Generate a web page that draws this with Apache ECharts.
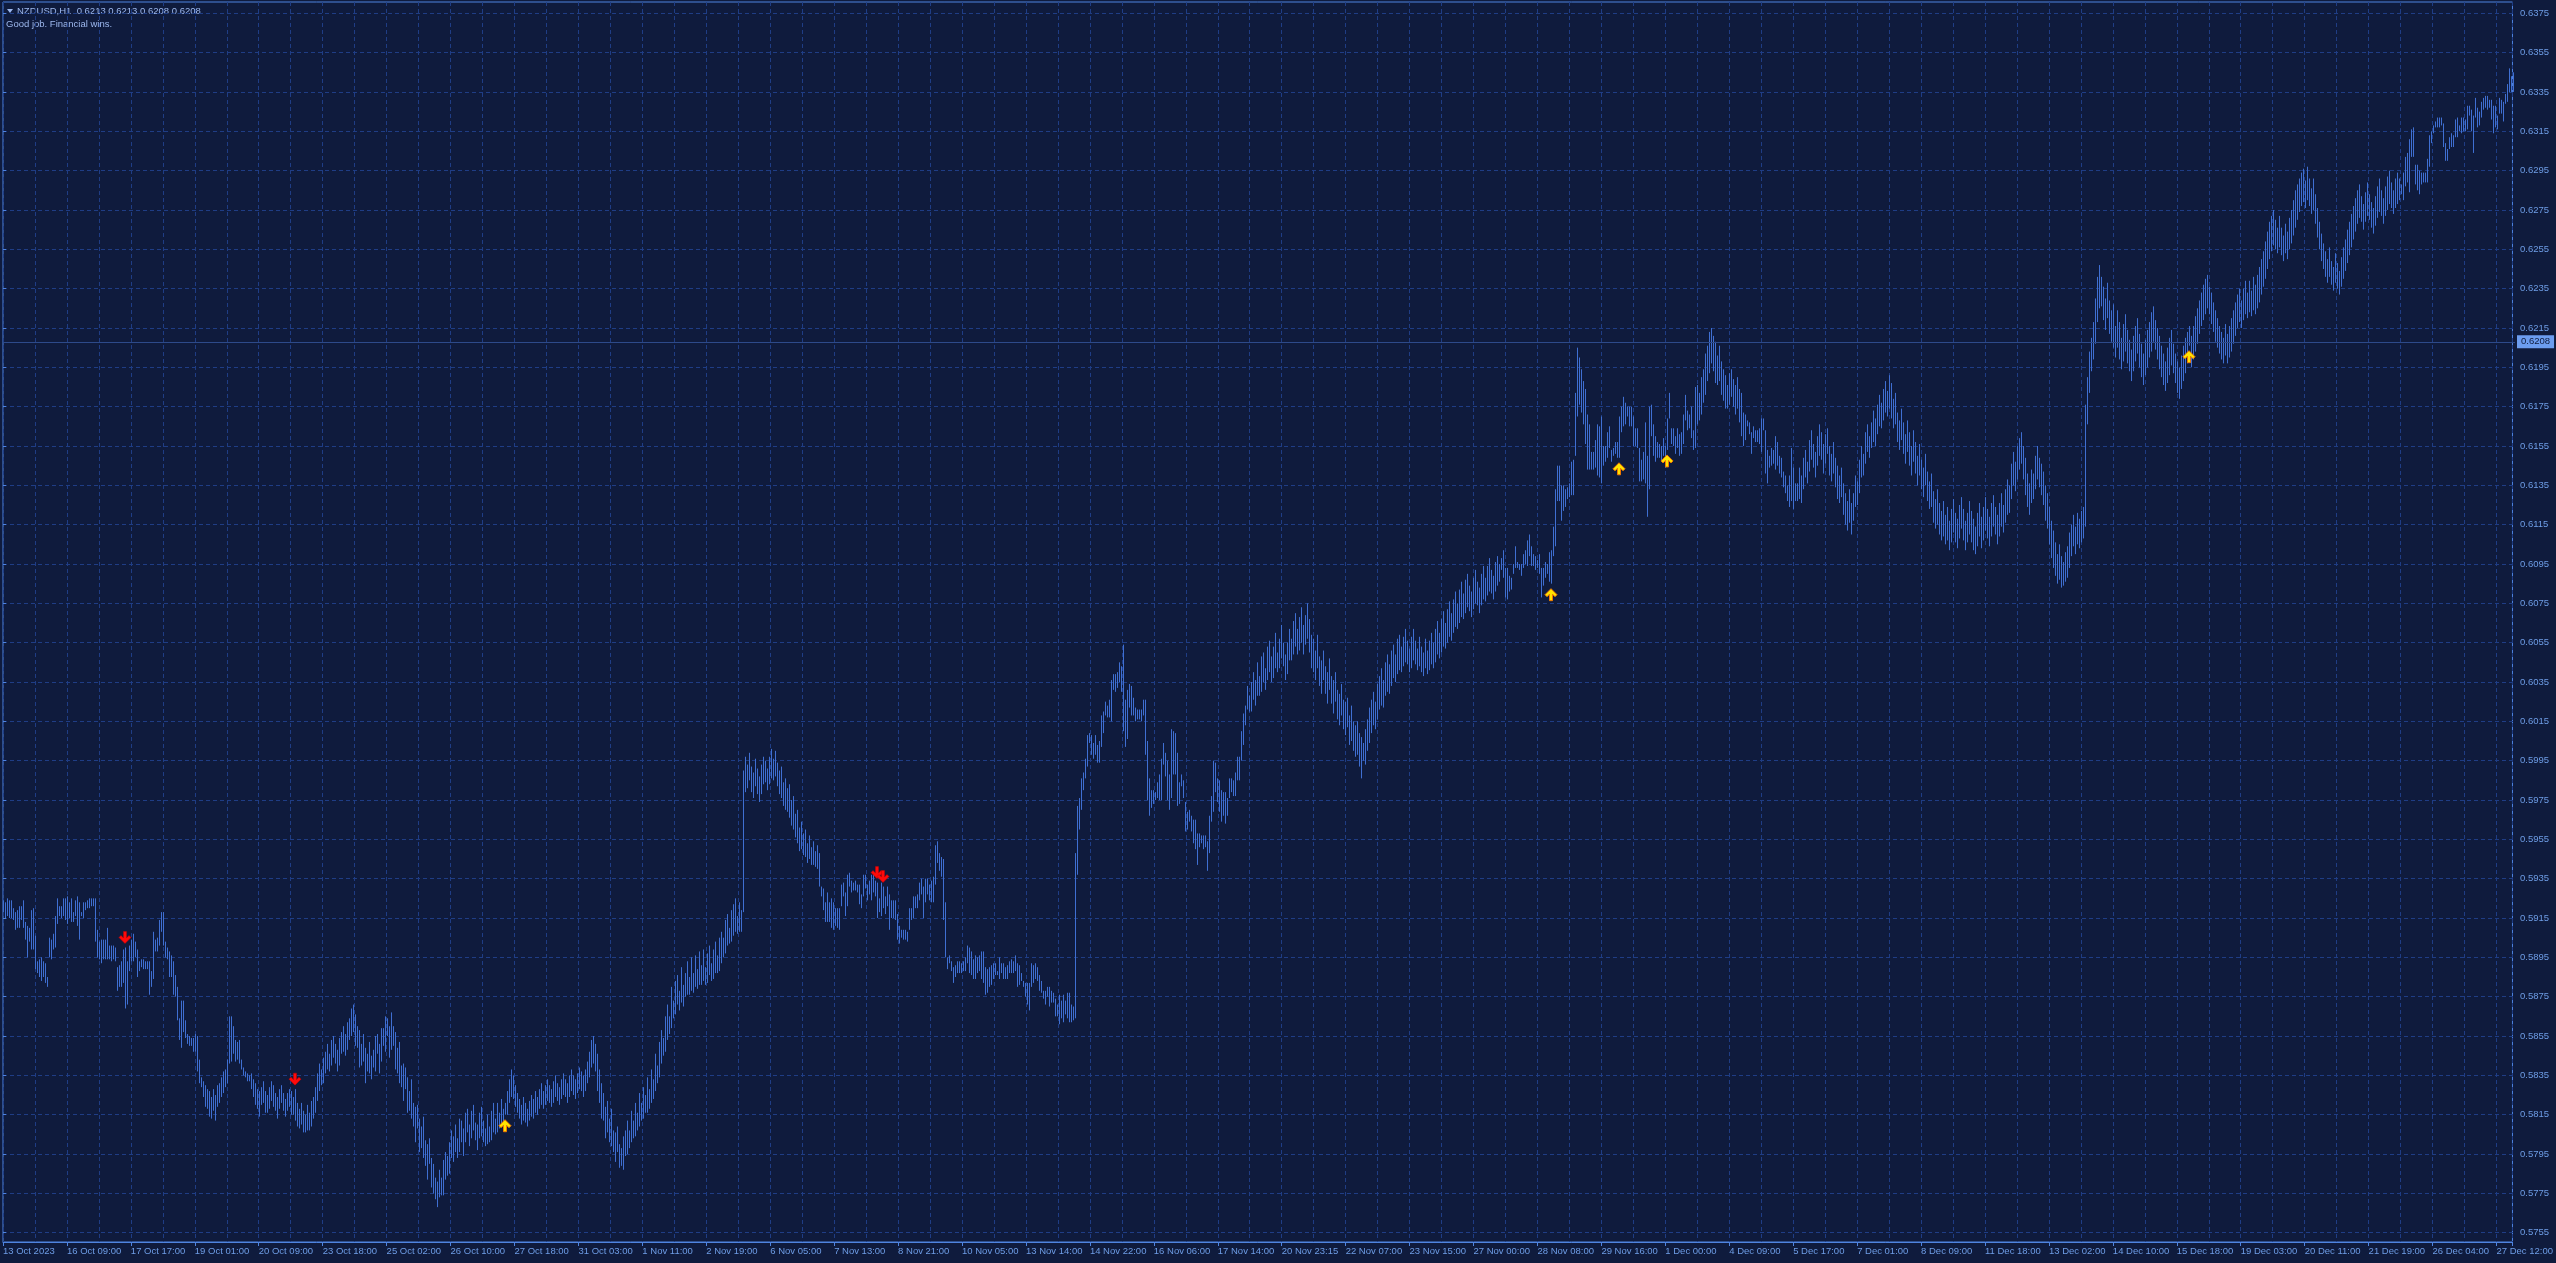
<!DOCTYPE html>
<html><head><meta charset="utf-8">
<script src="https://cdn.jsdelivr.net/npm/echarts@6/dist/echarts.min.js"></script>
<style>html,body{margin:0;padding:0;background:#0f1b3d;overflow:hidden}#c{width:2556px;height:1263px}</style>
</head><body><div id="c"></div>
<script>
// Prices are stored in pips above 0.5700 (e.g. 224 -> 0.5924)
const BASE_PIPS = 5700;
const AXIS_MIN_PIPS = 5755;   // lowest price gridline 0.5755
const AXIS_MAX_PIPS = 6375;   // highest price gridline 0.6375
const PRICE_STEP = 20;        // gridline every 0.0020
const BARS_PER_LABEL = 32;

const headerText = 'NZDUSD,H1  0.6213 0.6213 0.6208 0.6208';
const commentText = 'Good job. Financial wins.';
const lastPricePips = 6208;

const xLabels = ['13 Oct 2023','16 Oct 09:00','17 Oct 17:00','19 Oct 01:00','20 Oct 09:00','23 Oct 18:00','25 Oct 02:00','26 Oct 10:00','27 Oct 18:00','31 Oct 03:00',
'1 Nov 11:00','2 Nov 19:00','6 Nov 05:00','7 Nov 13:00','8 Nov 21:00','10 Nov 05:00','13 Nov 14:00','14 Nov 22:00','16 Nov 06:00','17 Nov 14:00',
'20 Nov 23:15','22 Nov 07:00','23 Nov 15:00','27 Nov 00:00','28 Nov 08:00','29 Nov 16:00','1 Dec 00:00','4 Dec 09:00','5 Dec 17:00','7 Dec 01:00',
'8 Dec 09:00','11 Dec 18:00','13 Dec 02:00','14 Dec 10:00','15 Dec 18:00','19 Dec 03:00','20 Dec 11:00','21 Dec 19:00','26 Dec 04:00','27 Dec 12:00'];

// hourly [high, low] in pips above 0.5700
const hourlyHighLow = [
// 0
[224,218],[223,215],[225,216],[224,215],[224,215],[220,214],[218,209],[219,210],[221,210],[221,214],
[224,210],[213,204],[211,195],[210,203],[219,199],[220,199],[206,189],[193,187],[194,185],[195,183],
[193,185],[192,182],[185,180],[205,195],[204,194],[207,199],[216,200],[225,212],[221,216],[221,215],
[225,216],[225,214],[226,212],[223,215],[225,213],[218,213],[224,216],[226,211],[223,204],[218,216],
[223,215],[223,219],[224,220],[225,220],[225,221],[225,221],[225,203],[209,195],[203,194],[204,192],
[204,194],[204,194],[210,194],[201,194],[201,193],[201,194],[200,193],[190,178],[191,180],[193,180],
[199,182],[200,169],[193,171],[201,188],[204,193],[207,193],[203,195],[199,185],[193,188],[194,190],
[194,189],[193,189],[193,189],[193,176],[188,180],[208,184],[204,198],[205,198],[214,201],[218,208],
[218,201],[203,195],[200,194],[198,185],[196,185],[193,176],[186,175],[180,163],[164,153],[173,149],
[173,157],[163,154],[156,151],[155,150],[154,150],[154,147],[156,147],[155,137],[143,131],[134,129],
// 100
[132,124],[130,119],[128,118],[127,114],[124,113],[128,117],[125,112],[130,119],[131,121],[134,124],
[137,126],[138,129],[143,131],[165,141],[165,142],[160,146],[153,142],[152,143],[153,141],[143,138],
[139,135],[137,134],[136,132],[135,132],[136,128],[133,124],[131,120],[128,118],[127,114],[129,120],
[132,121],[127,116],[125,116],[129,118],[132,122],[130,119],[126,117],[124,113],[128,118],[130,121],
[126,117],[123,114],[126,117],[128,119],[127,115],[124,115],[128,112],[121,109],[118,108],[121,110],
[117,106],[115,106],[120,107],[116,107],[122,109],[124,113],[129,116],[136,122],[141,127],[138,130],
[144,131],[147,136],[151,138],[146,137],[153,140],[155,144],[151,141],[148,137],[154,140],[157,146],
[160,147],[156,145],[162,148],[164,153],[169,155],[171,157],[166,150],[160,149],[158,139],[151,140],
[156,142],[149,131],[146,137],[152,136],[145,133],[148,139],[155,137],[156,146],[151,136],[159,142],
[159,150],[165,147],[164,155],[160,144],[167,148],[160,150],[157,138],[149,136],[152,131],[140,129],
// 200
[141,122],[139,128],[134,116],[127,117],[133,113],[121,109],[119,101],[120,108],[113,96],[109,98],
[114,93],[102,89],[100,82],[103,90],[93,78],[90,75],[83,72],[81,68],[87,73],[83,74],
[92,74],[96,82],[94,84],[101,85],[107,93],[104,91],[110,96],[103,93],[113,96],[112,101],
[108,94],[116,101],[118,106],[110,99],[117,103],[120,107],[111,102],[110,97],[116,103],[119,104],
[112,101],[108,99],[115,100],[109,101],[117,102],[121,106],[113,105],[121,106],[116,108],[123,109],
[118,108],[121,115],[127,115],[133,121],[138,124],[135,123],[130,119],[126,116],[123,113],[120,110],
[124,112],[121,111],[118,109],[122,112],[125,114],[123,113],[127,116],[124,115],[128,118],[131,120],
[127,118],[130,120],[133,122],[130,121],[128,119],[132,121],[135,124],[131,122],[129,120],[133,123],
[136,125],[133,124],[131,121],[135,124],[138,127],[135,125],[133,123],[136,126],[139,128],[137,127],
[135,124],[138,127],[142,131],[147,134],[153,139],[155,141],[151,137],[146,127],[138,121],[131,113],
// 300
[126,112],[119,103],[122,106],[113,101],[118,99],[107,96],[106,91],[109,96],[100,88],[98,89],
[104,87],[107,94],[112,95],[107,98],[117,101],[112,103],[121,104],[116,107],[126,109],[121,112],
[129,113],[125,116],[134,116],[128,118],[138,121],[133,123],[146,127],[140,131],[152,134],[158,141],
[154,145],[165,147],[171,153],[165,156],[180,159],[173,164],[183,166],[186,171],[178,168],[190,172],
[181,170],[187,175],[193,176],[185,176],[195,178],[187,177],[196,180],[189,179],[198,181],[191,181],
[199,183],[190,181],[197,182],[201,186],[192,183],[199,184],[203,187],[196,187],[205,188],[208,192],
[205,195],[214,197],[217,201],[210,202],[219,203],[222,206],[225,208],[216,207],[223,208],[219,208],
[290,218],[297,279],[293,281],[299,285],[292,279],[289,276],[296,282],[291,278],[287,274],[293,278],
[297,283],[295,284],[291,280],[297,283],[301,286],[296,285],[300,287],[294,282],[290,278],[292,276],
[284,272],[286,270],[281,269],[283,266],[275,262],[277,260],[268,256],[270,253],[261,249],[264,250],
// 400
[258,247],[260,246],[253,243],[257,245],[251,242],[254,242],[249,241],[252,240],[248,231],[231,226],
[230,219],[223,213],[228,213],[223,213],[225,210],[223,209],[220,211],[220,210],[220,209],[232,221],
[233,226],[228,216],[237,221],[238,231],[234,228],[233,229],[234,229],[232,228],[232,222],[227,220],
[237,226],[237,230],[232,224],[234,227],[237,224],[237,228],[234,226],[233,215],[225,218],[233,216],
[231,220],[226,217],[231,221],[227,209],[224,215],[224,215],[224,214],[217,204],[211,202],[209,205],
[209,204],[209,204],[208,203],[220,209],[220,214],[226,215],[226,220],[227,220],[233,224],[235,227],
[231,215],[235,223],[235,227],[232,224],[234,223],[236,223],[252,232],[254,243],[248,239],[246,236],
[245,214],[223,195],[195,189],[196,192],[193,188],[190,182],[191,185],[193,187],[193,187],[192,187],
[193,188],[195,188],[201,192],[200,187],[198,186],[194,184],[196,184],[195,187],[196,188],[198,184],
[198,182],[190,176],[189,177],[190,180],[191,181],[192,184],[192,186],[188,186],[195,184],[192,187],
// 500
[192,184],[190,184],[191,184],[193,187],[194,187],[193,187],[196,188],[192,180],[191,181],[187,183],
[183,180],[182,175],[182,171],[182,168],[192,180],[191,182],[192,184],[190,183],[186,178],[183,177],
[178,174],[178,171],[180,175],[180,170],[178,172],[177,172],[174,165],[171,165],[176,161],[173,164],
[176,162],[173,166],[177,164],[177,162],[171,162],[170,163],[248,164],[272,237],[276,260],[286,270],
[289,280],[296,286],[308,292],[309,304],[308,298],[304,296],[308,298],[303,294],[305,294],[318,302],
[320,309],[325,318],[323,317],[326,317],[336,315],[339,331],[339,330],[340,332],[345,335],[343,330],
[354,310],[326,302],[331,306],[334,322],[333,318],[327,318],[322,315],[321,316],[321,316],[321,315],
[326,318],[326,298],[305,275],[286,267],[280,271],[280,273],[279,275],[284,276],[288,275],[296,275],
[304,293],[299,287],[295,275],[288,270],[311,276],[310,288],[309,288],[299,272],[284,273],[288,282],
[285,276],[274,259],[269,260],[270,264],[267,259],[265,253],[265,250],[258,242],[258,251],[257,253],
// 600
[257,250],[257,251],[254,239],[267,248],[277,264],[295,269],[294,279],[286,274],[285,269],[280,264],
[279,267],[279,263],[276,267],[286,276],[286,279],[285,277],[289,277],[297,285],[297,285],[310,295],
[319,303],[323,313],[333,321],[328,320],[335,320],[340,326],[336,323],[345,328],[338,328],[348,330],
[350,335],[342,331],[353,336],[356,340],[348,335],[353,337],[360,342],[350,340],[357,342],[364,347],
[355,343],[349,336],[355,339],[362,346],[357,346],[366,349],[370,353],[362,349],[368,351],[373,355],
[364,349],[369,354],[375,357],[367,350],[359,342],[357,340],[351,336],[359,342],[348,333],[346,329],
[351,336],[343,329],[340,324],[347,331],[338,324],[336,319],[340,325],[331,316],[329,313],[334,318],
[326,311],[325,308],[327,312],[318,303],[323,305],[315,300],[313,297],[315,298],[309,292],[307,286],
[304,295],[311,293],[316,300],[322,304],[326,309],[330,313],[325,311],[334,316],[338,321],[342,323],
[336,322],[345,328],[349,330],[344,329],[351,333],[354,337],[349,335],[357,339],[359,341],[353,340],
// 700
[358,343],[362,345],[356,344],[352,340],[358,342],[362,346],[356,344],[352,341],[358,343],[353,340],
[350,338],[357,342],[351,339],[356,341],[360,344],[355,342],[362,345],[366,349],[360,347],[367,350],
[371,353],[365,352],[372,355],[376,358],[370,356],[377,360],[381,363],[375,362],[382,365],[386,368],
[380,367],[387,370],[390,373],[384,371],[381,368],[388,372],[392,375],[386,374],[383,370],[390,374],
[394,377],[388,376],[394,379],[398,381],[392,380],[389,377],[396,381],[399,384],[395,386],[398,392],
[402,388],[393,378],[393,377],[389,381],[388,382],[395,390],[404,393],[396,393],[395,392],[395,389],
[400,393],[402,395],[407,394],[410,399],[404,394],[400,394],[399,392],[397,393],[400,390],[393,378],
[393,384],[396,388],[395,390],[401,386],[402,385],[414,399],[433,404],[445,427],[445,427],[435,417],
[435,422],[433,424],[434,428],[436,429],[447,430],[448,430],[482,450],[505,470],[500,476],[494,472],
[488,466],[484,456],[471,443],[466,443],[452,443],[452,443],[458,444],[466,440],[465,439],[470,436],
// 800
[455,445],[455,447],[462,449],[465,454],[453,447],[454,450],[457,451],[457,449],[470,449],[475,462],
[480,465],[477,466],[475,470],[475,465],[475,465],[470,455],[464,455],[464,454],[454,437],[448,437],
[452,438],[467,436],[450,419],[475,433],[476,460],[466,450],[460,447],[457,449],[456,449],[455,447],
[459,450],[455,444],[469,453],[482,469],[464,456],[464,455],[460,451],[464,454],[461,450],[462,451],
[471,456],[481,468],[473,463],[471,464],[475,459],[463,453],[485,454],[486,466],[482,468],[490,471],
[494,477],[502,481],[506,488],[513,492],[515,497],[511,493],[508,487],[501,486],[506,488],[498,481],
[494,478],[491,474],[486,474],[492,476],[494,480],[489,475],[486,471],[490,474],[484,467],[482,460],
[472,455],[471,458],[468,465],[467,461],[462,451],[465,459],[463,457],[463,457],[464,456],[469,452],
[469,463],[463,441],[453,436],[450,444],[454,445],[453,446],[460,443],[457,445],[450,441],[449,439],
[442,434],[440,431],[435,427],[440,424],[454,427],[444,423],[436,427],[436,427],[444,428],[440,426],
// 900
[449,433],[453,439],[447,436],[458,442],[463,448],[456,444],[452,439],[460,445],[466,450],[462,448],
[456,441],[461,446],[464,451],[455,440],[451,437],[457,441],[449,434],[445,428],[440,426],[444,429],
[436,420],[431,415],[427,412],[433,416],[426,410],[431,417],[440,424],[437,425],[448,431],[455,439],
[451,440],[462,446],[466,452],[460,449],[467,454],[473,457],[469,455],[476,461],[481,465],[477,464],
[484,468],[488,472],[483,470],[491,474],[487,469],[479,464],[482,466],[472,457],[468,453],[474,458],
[467,451],[461,446],[468,452],[462,445],[455,440],[463,447],[457,441],[450,435],[456,440],[448,433],
[444,429],[451,435],[442,427],[437,423],[441,424],[432,416],[428,413],[433,415],[426,410],[422,407],
[427,409],[420,405],[424,407],[417,402],[423,406],[428,411],[421,406],[418,403],[425,408],[429,413],
[423,407],[417,402],[421,406],[427,410],[422,406],[418,402],[414,400],[421,404],[426,409],[419,403],
[424,407],[429,412],[423,408],[419,404],[426,409],[430,414],[424,410],[420,405],[426,409],[431,414],
// 1000
[425,411],[433,416],[438,420],[435,421],[446,428],[452,435],[447,432],[455,438],[459,443],[462,446],
[455,438],[449,430],[441,424],[436,420],[443,426],[441,428],[450,433],[455,438],[449,434],[446,430],
[442,425],[435,417],[431,413],[424,405],[417,398],[412,393],[406,389],[400,385],[405,387],[399,383],
[396,384],[401,386],[404,388],[411,393],[415,399],[420,404],[414,400],[421,405],[418,403],[422,406],
[424,408],[476,414],[490,466],[503,482],[510,493],[518,499],[530,507],[541,518],[547,525],[541,526],
[536,519],[530,514],[538,520],[529,512],[524,508],[527,505],[516,500],[524,505],[518,499],[510,494],
[517,498],[522,503],[514,497],[509,493],[504,488],[511,493],[516,498],[520,502],[512,495],[507,490],
[502,486],[509,491],[514,495],[518,500],[523,503],[526,508],[519,504],[515,499],[511,494],[506,490],
[502,486],[498,483],[505,487],[510,491],[514,496],[507,492],[502,487],[498,482],[495,479],[501,484],
[506,488],[510,492],[513,497],[516,506],[511,495],[516,499],[521,503],[525,507],[529,512],[533,516],
// 1100
[537,519],[540,522],[542,525],[536,522],[533,517],[528,513],[524,508],[520,505],[516,502],[513,499],
[510,497],[517,501],[512,497],[516,500],[520,503],[524,507],[528,511],[532,515],[535,518],[529,515],
[535,519],[539,522],[533,520],[539,523],[534,521],[541,524],[537,522],[542,525],[546,528],[550,532],
[554,536],[559,540],[564,545],[569,550],[572,554],[575,557],[570,555],[566,553],[572,556],[566,552],
[562,549],[568,553],[564,550],[571,555],[575,558],[580,562],[585,566],[588,570],[591,574],[594,577],
[596,579],[590,576],[597,580],[591,577],[586,573],[591,575],[583,568],[576,561],[569,555],[563,549],
[558,545],[554,541],[550,538],[556,541],[549,537],[546,534],[553,538],[548,535],[544,532],[551,536],
[556,540],[560,544],[565,548],[569,552],[573,556],[577,560],[581,564],[585,568],[588,571],[582,569],
[578,565],[584,569],[589,572],[583,570],[579,566],[576,563],[582,567],[587,571],[591,574],[585,572],
[581,568],[587,572],[592,575],[595,578],[589,576],[585,573],[591,576],[594,578],[591,580],[588,583],
// 1200
[594,580],[602,587],[604,589],[611,584],[616,602],[617,602],[598,588],[598,585],[595,583],[594,588],
[594,589],[594,589],[601,589],[613,597],[615,609],[618,614],[620,617],[622,617],[622,617],[622,618],
[619,607],[609,600],[606,600],[612,606],[614,607],[613,607],[621,612],[622,612],[618,615],[622,614],
[622,615],[621,615],[628,616],[628,623],[626,615],[623,604],[632,622],[627,617],[625,618],[630,622],
[632,626],[633,627],[633,626],[631,627],[631,621],[628,614],[628,617],[623,616],[632,624],[631,624],
[630,620],[634,629],[639,630],[647,635],[643,635],[645,635]
];

const sellArrowBars = [61, 146, 437, 440];
const buyArrowBars = [251, 774, 808, 832, 1093];

// ---- styling ----
const BG = '#0f1b3d', GRID = '#1f3d85', FRAME = '#4f84e0', BAR = '#3f6fd2', LABEL = '#6e9de6', HEAD = '#9db8ee';
const FONT = 'Liberation Sans';
const OFF = AXIS_MIN_PIPS - BASE_PIPS; // shift so axis starts at 0
const N = hourlyHighLow.length;

const barData = hourlyHighLow.map((d, i) => [i, d[0] - OFF, d[1] - OFF]);
const sellData = sellArrowBars.map(i => [i, hourlyHighLow[i][0] - OFF]);
const buyData = buyArrowBars.map(i => [i, hourlyHighLow[i][1] - OFF]);
const ARROW = 'path://M6 0 L12 6 L10 8 L7.5 5.5 L7.5 12 L4.5 12 L4.5 5.5 L2 8 L0 6 Z';

const chart = echarts.init(document.getElementById('c'), null, {renderer: 'canvas'});
chart.setOption({
  backgroundColor: BG,
  animation: false,
  grid: [
    {left: 3, right: 41, top: 13.3, bottom: 30.3},
    {left: 3, right: 41, top: 2, bottom: 21, show: true, borderColor: FRAME, borderWidth: 1, backgroundColor: 'transparent'}
  ],
  xAxis: [
    {gridIndex: 0, type: 'value', min: 0, max: N, show: false},
    {gridIndex: 1, type: 'value', min: 0, max: N, interval: BARS_PER_LABEL,
     axisLine: {show: true, lineStyle: {color: FRAME, width: 1}},
     axisTick: {show: true, length: 4, lineStyle: {color: FRAME}},
     axisLabel: {show: true, color: LABEL, fontFamily: FONT, fontSize: 9.5, align: 'left', margin: 4,
       showMinLabel: true, showMaxLabel: true,
       formatter: v => { const k = Math.round(v / BARS_PER_LABEL); return (Math.abs(v - k * BARS_PER_LABEL) < 1e-6 && xLabels[k]) ? xLabels[k] : ''; }},
     splitLine: {show: true, lineStyle: {color: GRID, type: [4, 3], width: 1}},
     minorTick: {show: false, splitNumber: 2},
     minorSplitLine: {show: true, lineStyle: {color: GRID, type: [4, 3], width: 1}}}
  ],
  yAxis: [
    {gridIndex: 0, type: 'value', position: 'right', min: 0, max: AXIS_MAX_PIPS - AXIS_MIN_PIPS, interval: PRICE_STEP,
     axisLine: {show: false},
     axisTick: {show: true, length: 3, lineStyle: {color: FRAME}},
     axisLabel: {color: LABEL, fontFamily: FONT, fontSize: 9.5, margin: 5,
       formatter: v => ((v + AXIS_MIN_PIPS) / 10000).toFixed(4)},
     splitLine: {show: true, lineStyle: {color: GRID, type: [4, 3], width: 1}}},
    {gridIndex: 1, type: 'value', min: 0, max: 1, show: false}
  ],
  series: [
    {type: 'custom', xAxisIndex: 0, yAxisIndex: 0, data: barData, silent: true,
     encode: {x: 0, y: [1, 2]},
     renderItem: function (params, api) {
       const i = api.value(0);
       const a = api.coord([i, api.value(1)]);
       const b = api.coord([i, api.value(2)]);
       const x = Math.round(a[0]) + 0.5;
       let y1 = a[1], y2 = b[1];
       if (y2 - y1 < 1) y2 = y1 + 1;
       return {type: 'line', shape: {x1: x, y1: y1, x2: x, y2: y2}, style: {stroke: BAR, lineWidth: 1}};
     }},
    {type: 'scatter', xAxisIndex: 0, yAxisIndex: 0, data: sellData, silent: true,
     symbol: ARROW, symbolSize: [12, 12], symbolRotate: 180, symbolOffset: [0, -10],
     itemStyle: {color: '#ff0a0a', borderColor: '#c80000', borderWidth: 0.5, opacity: 1},
     markLine: {silent: true, symbol: ['none', 'none'], animation: false,
       data: [{yAxis: lastPricePips - AXIS_MIN_PIPS}],
       lineStyle: {type: 'solid', color: '#2d4a8a', width: 1},
       label: {show: true, position: 'end', distance: 2, formatter: (lastPricePips / 10000).toFixed(4),
         backgroundColor: '#6c9df0', color: '#0f1b3d', padding: [2, 4, 1, 4], fontSize: 9.5, fontFamily: FONT},
       emphasis: {disabled: true}}},
    {type: 'scatter', xAxisIndex: 0, yAxisIndex: 0, data: buyData, silent: true,
     symbol: ARROW, symbolSize: [12, 12], symbolOffset: [0, 11],
     itemStyle: {color: '#ffe400', borderColor: '#f07800', borderWidth: 1, opacity: 1}}
  ],
  graphic: [
    {type: 'polygon', shape: {points: [[7, 9], [13, 9], [10, 13]]}, style: {fill: HEAD}, silent: true},
    {type: 'text', x: 17, y: 11, silent: true, style: {text: headerText, fill: HEAD, font: '9.5px "' + FONT + '"', verticalAlign: 'middle', textVerticalAlign: 'middle'}},
    {type: 'text', x: 6, y: 24, silent: true, style: {text: commentText, fill: HEAD, font: '9.5px "' + FONT + '"', verticalAlign: 'middle', textVerticalAlign: 'middle'}}
  ]
});
</script>
</body></html>
